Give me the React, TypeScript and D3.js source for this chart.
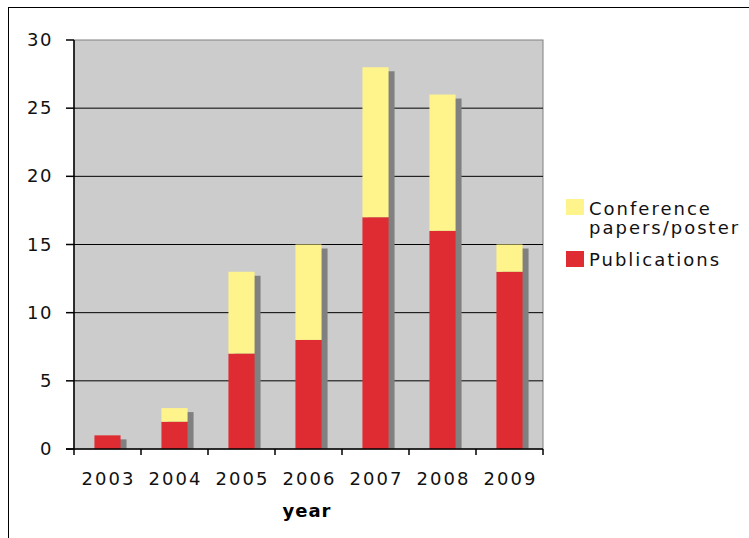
import React from 'react';
import { scaleBand, scaleLinear, stack } from 'd3';

const years = ['2003', '2004', '2005', '2006', '2007', '2008', '2009'];
const publications = [1, 2, 7, 8, 17, 16, 13];
const conference = [0, 1, 6, 7, 11, 10, 2];
const yTicks = [0, 5, 10, 15, 20, 25, 30];
const seriesNames = ['Publications', 'Conference papers/poster'];

const W = 749;
const H = 538;
const plot = { left: 74, right: 543, top: 40, bottom: 449 };
const font = 'Verdana, "DejaVu Sans", sans-serif';

const colors: Record<string, string> = {
  Publications: '#de2c32',
  'Conference papers/poster': '#fff38b',
};

const App: React.FC = () => {
  const rows = years.map((y, i) => ({
    year: y,
    Publications: publications[i],
    'Conference papers/poster': conference[i],
  }));
  const stacked = stack<any>().keys(seriesNames)(rows);

  const x = scaleBand()
    .domain(years)
    .range([plot.left, plot.right])
    .paddingInner(0.61)
    .paddingOuter(0.305);
  const y = scaleLinear().domain([0, 30]).range([plot.bottom, plot.top]);
  const bw = x.bandwidth();
  const totals = years.map((_, i) => publications[i] + conference[i]);

  return (
    <svg
      width={W}
      height={H}
      style={{ position: 'absolute', left: 0, top: 0, display: 'block' }}
      fontFamily={font}
    >
      <rect x={0} y={0} width={W} height={H} fill="#fff" />
      <rect x={8.5} y={7.5} width={900} height={700} fill="none" stroke="#000" strokeWidth={1} />

      {/* plot area */}
      <rect
        x={plot.left}
        y={plot.top}
        width={plot.right - plot.left}
        height={plot.bottom - plot.top}
        fill="#cccccc"
        stroke="#808080"
        strokeWidth={1}
      />
      {yTicks.filter(t => t > 0 && t < 30).map(t => (
        <line key={t} x1={plot.left} x2={plot.right} y1={y(t)} y2={y(t)} stroke="#000" strokeWidth={1} />
      ))}

      {/* shadows */}
      {years.map((yr, i) => (
        <rect
          key={'s' + yr}
          x={x(yr)! + 6}
          y={y(totals[i]) + 4}
          width={bw}
          height={plot.bottom - y(totals[i]) - 4}
          fill="#808080"
        />
      ))}

      {stacked.map(s =>
        s.map((d: any, i: number) =>
          d[1] - d[0] > 0 ? (
            <rect
              key={s.key + i}
              x={x(years[i])}
              y={y(d[1])}
              width={bw}
              height={y(d[0]) - y(d[1])}
              fill={colors[s.key]}
            />
          ) : null
        )
      )}

      {/* axes */}
      <line x1={plot.left} x2={plot.left} y1={plot.top} y2={plot.bottom + 6} stroke="#000" strokeWidth={1.5} />
      <line x1={plot.left - 8} x2={plot.right} y1={plot.bottom} y2={plot.bottom} stroke="#000" strokeWidth={1.5} />
      {yTicks.map(t => (
        <g key={t}>
          <line x1={plot.left - 8} x2={plot.left} y1={y(t)} y2={y(t)} stroke="#000" strokeWidth={1.5} />
          <text x={53} y={y(t) + 6} textAnchor="end" fontSize={18} letterSpacing={1.5} fill="#111">
            {t}
          </text>
        </g>
      ))}
      {years.map((yr, i) => {
        const step = x.step();
        const xt = plot.left + step * (i + 1);
        return (
          <g key={yr}>
            <line x1={xt} x2={xt} y1={plot.bottom} y2={plot.bottom + 6} stroke="#000" strokeWidth={1.5} />
            <text x={x(yr)! + bw / 2 + 1} y={485} textAnchor="middle" fontSize={18} letterSpacing={2} fill="#111">
              {yr}
            </text>
          </g>
        );
      })}
      <text x={307} y={517} textAnchor="middle" fontSize={18} fontWeight="bold" letterSpacing={1} fill="#000">
        year
      </text>

      {/* legend */}
      <rect x={566} y={199} width={18} height={16} fill={colors['Conference papers/poster']} />
      <text x={589} y={215} fontSize={18} letterSpacing={2} fill="#111">Conference</text>
      <text x={589} y={234} fontSize={18} letterSpacing={2} fill="#111">papers/poster</text>
      <rect x={566} y={251} width={18} height={16} fill={colors.Publications} />
      <text x={589} y={266} fontSize={18} letterSpacing={2} fill="#111">Publications</text>
    </svg>
  );
};

export default App;
